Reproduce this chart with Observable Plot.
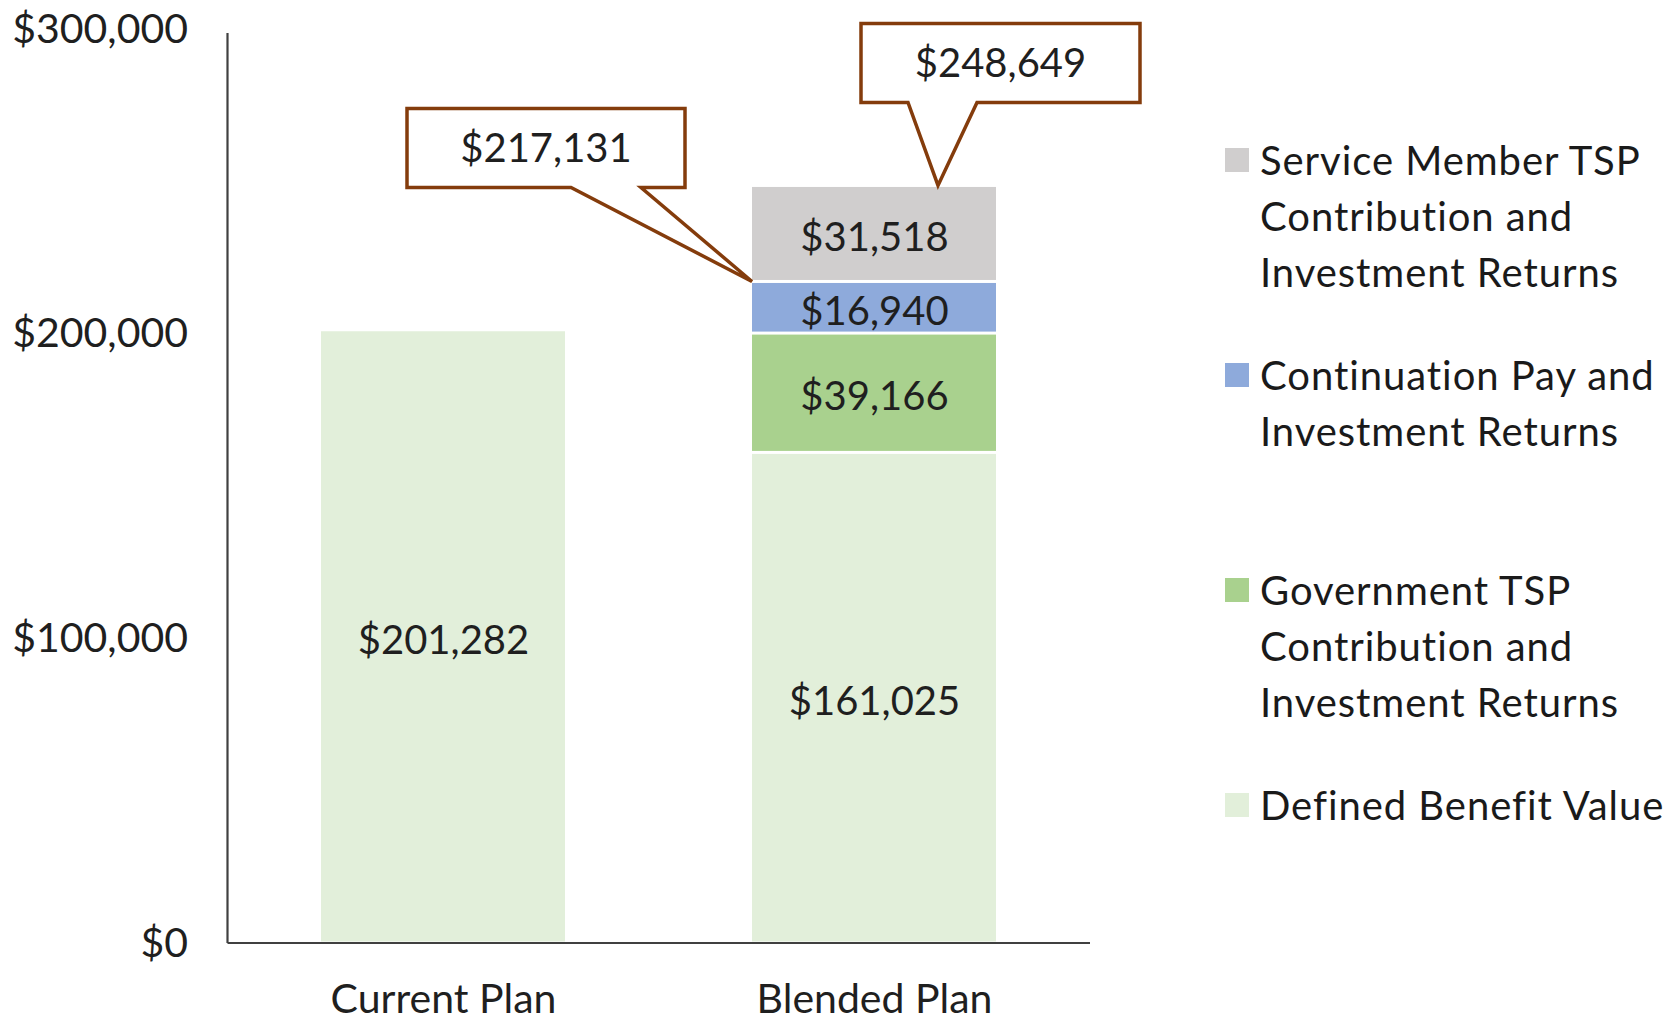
<!DOCTYPE html>
<html>
<head>
<meta charset="utf-8">
<script src="https://cdn.jsdelivr.net/npm/d3@7"></script>
<script src="https://cdn.jsdelivr.net/npm/@observablehq/plot@0.6"></script>
<style>
  html, body { margin: 0; padding: 0; background: #ffffff; }
  #wrap { position: relative; width: 1675px; height: 1023px; overflow: hidden; }
  #wrap svg { position: absolute; left: 0; top: 0; }
  .legend-item { position: absolute; left: 1225px; font-family: Lato, "Open Sans", sans-serif; font-size: 40px; line-height: 56px; color: #1a1a1a; letter-spacing: 0.95px; }
  .legend-item .sw { position: absolute; left: 0; top: 16px; width: 24px; height: 24px; }
  .legend-item .lbl { position: absolute; left: 35px; top: 0; white-space: nowrap; }
</style>
</head>
<body>
<div id="wrap"></div>
<script>
// ---- data ----
const plans = ["Current Plan", "Blended Plan"];
const series = [
  "Defined Benefit Value",
  "Government TSP Contribution and Investment Returns",
  "Continuation Pay and Investment Returns",
  "Service Member TSP Contribution and Investment Returns"
];
const seriesColors = ["#e2efda", "#a9d18e", "#8eaadb", "#d0cece"];
const currentPlanValues = [201282, 0, 0, 0];
const blendedPlanValues = [161025, 39166, 16940, 31518];
const yTicks = [0, 100000, 200000, 300000];

// legend (top to bottom) with its line breaks
const legendOrder = [3, 2, 1, 0];
const legendLines = [
  ["Defined Benefit Value"],
  ["Government TSP", "Contribution and", "Investment Returns"],
  ["Continuation Pay and", "Investment Returns"],
  ["Service Member TSP", "Contribution and", "Investment Returns"]
];

// ---- build table ----
const valuesByPlan = {"Current Plan": currentPlanValues, "Blended Plan": blendedPlanValues};
const rows = [];
for (const p of plans) {
  valuesByPlan[p].forEach((v, i) => { if (v > 0) rows.push({plan: p, series: series[i], value: v}); });
}
const fmt = d => "$" + d3.format(",")(d);

// callouts: totals on the Blended Plan bar (cumulative sums)
const cum = d3.cumsum(blendedPlanValues);
const calloutValues = [cum[2], cum[3]];
// layout for callouts (pixels relative to the tip)
const calloutLayout = [
  {anchor: "left",  tipDx: 0,   left: -345, right: -67, top: -173, bottom: -94, base1: -181, base2: -111},
  {anchor: "center", tipDx: 64, left: -77,  right: 202, top: -162, bottom: -83, base1: -30,  base2: 39}
];

const ink = "#1f1f1f";
const brown = "#843c0c";

function axisLines(index, scales, values, dims) {
  const g = d3.create("svg:g");
  const x0 = dims.marginLeft, x1 = dims.width - dims.marginRight;
  const yb = dims.height - dims.marginBottom, yt = dims.marginTop;
  g.append("line").attr("x1", x0).attr("x2", x0).attr("y1", yt + 4).attr("y2", yb)
    .attr("stroke", "#404040").attr("stroke-width", 2.2);
  g.append("line").attr("x1", x0).attr("x2", x1).attr("y1", yb).attr("y2", yb)
    .attr("stroke", "#404040").attr("stroke-width", 2.2);
  return g.node();
}

function callouts(index, scales, values, dims) {
  const g = d3.create("svg:g");
  const xs = scales.x, ys = scales.y;
  const bw = xs.bandwidth ? xs.bandwidth() : 0;
  calloutValues.forEach((v, i) => {
    const L = calloutLayout[i];
    const bx = xs("Blended Plan");
    const tx = (L.anchor === "left" ? bx : bx + bw / 2) + L.tipDx;
    const ty = ys(v);
    const path = `M${tx + L.left},${ty + L.top} H${tx + L.right} V${ty + L.bottom} H${tx + L.base2} L${tx},${ty} L${tx + L.base1},${ty + L.bottom} H${tx + L.left} Z`;
    g.append("path").attr("d", path).attr("fill", "#ffffff").attr("stroke", brown)
      .attr("stroke-width", 3.5).attr("stroke-linejoin", "miter");
    g.append("text")
      .attr("x", tx + (L.left + L.right) / 2)
      .attr("y", ty + (L.top + L.bottom) / 2)
      .attr("dy", "0.36em")
      .attr("text-anchor", "middle")
      .attr("font-family", "Lato, sans-serif")
      .attr("font-size", 40)
      .attr("fill", ink)
      .text(fmt(v));
  });
  return g.node();
}

const chart = Plot.plot({
  width: 1675,
  height: 1023,
  marginLeft: 227.5,
  marginRight: 585,
  marginTop: 29,
  marginBottom: 80,
  style: {fontFamily: "Lato, sans-serif", fontSize: "40px", color: ink, background: "transparent", overflow: "visible"},
  x: {domain: plans, paddingInner: 0.435, paddingOuter: 0.216, label: null},
  y: {domain: [0, 300000], label: null},
  color: {domain: series, range: seriesColors},
  marks: [
    Plot.barY(rows, Plot.stackY({x: "plan", y: "value", fill: "series", insetTop: 1.5, insetBottom: 1.5})),
    Plot.text(rows, Plot.stackY({x: "plan", y: "value", text: d => fmt(d.value), fill: ink, fontSize: 40, dy: 4, fontFamily: "Lato, sans-serif"})),
    Plot.axisY({ticks: yTicks, tickSize: 0, tickPadding: 40, tickFormat: fmt, fontSize: 41, label: null, fill: ink}),
    Plot.axisX({tickSize: 0, tickPadding: 40, fontSize: 41, label: null, fill: ink}),
    axisLines,
    callouts
  ]
});
document.getElementById("wrap").appendChild(chart);

// legend
const wrap = document.getElementById("wrap");
legendOrder.forEach((si, k) => {
  const item = document.createElement("div");
  item.className = "legend-item";
  item.style.top = (132 + k * 215) + "px";
  const sw = document.createElement("div");
  sw.className = "sw";
  sw.style.background = seriesColors[si];
  const lbl = document.createElement("div");
  lbl.className = "lbl";
  lbl.innerHTML = legendLines[si].map(s => s.replace(/&/g, "&amp;")).join("<br>");
  item.appendChild(sw);
  item.appendChild(lbl);
  wrap.appendChild(item);
});
</script>
</body>
</html>
